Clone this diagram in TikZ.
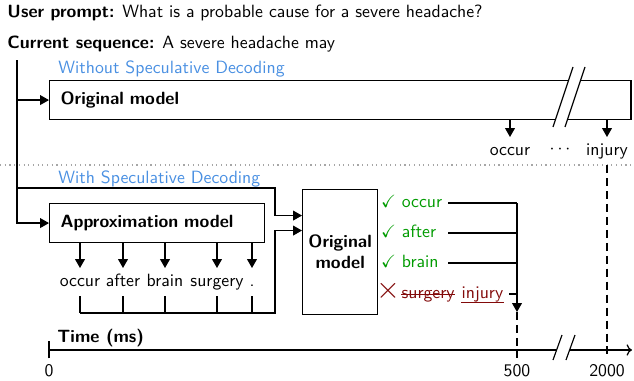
\documentclass[tikz,border=0pt]{standalone}
\usepackage{amssymb}
\usetikzlibrary{arrows.meta,positioning}

\definecolor{specblue}{RGB}{74,144,226}
\definecolor{okgreen}{RGB}{0,155,0}
\definecolor{badred}{RGB}{130,10,10}

\tikzset{
  modelbox/.style={draw, font=\sffamily\bfseries, align=left, inner xsep=6.2pt, minimum height=0.772cm},
  token/.style={font=\sffamily, text height=1.5ex, text depth=.4ex, inner ysep=3.5pt, inner xsep=1pt},
  vtoken/.style={token, anchor=west, inner xsep=2pt},
  arr/.style={-{Triangle[length=5pt,width=5.5pt]}},
  dashline/.style={dash pattern=on 4.5pt off 2.8pt},
}

\begin{document}
\begin{tikzpicture}[x=0.0198cm, y=-0.0198cm, font=\sffamily, line width=0.65pt]
    \useasboundingbox (0,0) rectangle (634,381);

    % Prompt and current sequence
    \node[anchor=west] (prompt) at (1,13) {\textbf{User prompt:} What is a probable cause for a severe headache?};
    \node[anchor=west] (seq) at (1,44) {\textbf{Current sequence:} A severe headache may};

    % Main line
    \coordinate (top) at (17,60);
    \coordinate (split) at (17,188);

    % Without speculative decoding
    \node[anchor=west, text=specblue] (nospec) at (52,69) {Without Speculative Decoding};
    \node[modelbox, anchor=north west, text width=11.08cm] (origA) at (49,80) {Original model};
    \fill[white] (553,127) -- (573,67) -- (585,67) -- (565,127) -- cycle;
    \draw (553,127) -- (573,67) (565,127) -- (585,67);

    \node[token, anchor=north] (occA) at (510,137) {occur};
    \node[token, anchor=north] (dotsA) at (560,135) {$\cdots$};
    \node[token, anchor=north] (injA) at (607,137) {injury};
    \draw[arr] (origA.south -| occA) -- (occA);
    \draw[arr] (origA.south -| injA) -- (injA);

    % Separator
    \draw[dotted, gray!70] (0,165) -- (634,165);

    % With speculative decoding
    \node[anchor=west, text=specblue] (spec) at (52,179) {With Speculative Decoding};
    \node[modelbox, anchor=north west, text width=3.82cm] (approx) at (49,203) {Approximation model};
    \node[draw, font=\sffamily\bfseries, align=center, minimum width=1.426cm, minimum height=2.475cm, anchor=north west] (origB) at (302,189) {Original\\model};

    \draw (top) -- (split);
    \draw[arr] (top) |- (approx.west);
    \draw[arr] (top |- origA.west) -- (origA.west);
    \draw[arr] (split) -- (275,188) |- ([yshift=0.723cm]origB.west);

    % Draft tokens
    \foreach \x/\word [count=\i] in {80/occur, 123/after, 165/brain, 217/surgery, 252/.} {
        \node[token, anchor=north] (tok\i) at (\x,268) {\word};
        \draw[arr] (approx.south -| tok\i) -- (tok\i);
        \draw (tok\i.south) -- (\x,313); % ticks
    };
    \draw[arr] (tok1.south |- 0,313) -- (275,313) |- ([yshift=0.426cm]origB.west);

    % Verified tokens
    \coordinate (drop) at (517,312);
    \foreach \y/\word [count=\i] in {203/occur, 233/after, 263/brain} {
        \node[vtoken, text=okgreen, text width=1.245cm] (ok\i) at (377,\y) {$\checkmark$ \word};
        \draw (ok\i.east) -- (ok\i -| drop);
    };
    \node[vtoken, text=badred, inner sep=0pt] (cross) at (376,294) {\LARGE$\times$};
    \node[token, text=badred, anchor=base west, inner xsep=0pt] (surg) at (cross.base east) {surgery};
    \node[token, text=badred, anchor=base west, inner xsep=0pt] (injB) at ([xshift=3.3pt]surg.base east) {injury};
    \draw[badred, line width=0.5pt] ([yshift=2.3pt]surg.base west) -- ([yshift=2.3pt]surg.base east);
    \draw[badred, line width=0.5pt] ([yshift=-2.6pt]injB.base west) -- ([yshift=-2.6pt]injB.base east);
    \draw ([xshift=3pt]injB.east) -- (injB -| drop);
    \draw[arr] (ok1 -| drop) -- (drop);

    % Time axis
    \node[anchor=west, font=\sffamily\bfseries] (time) at (51,338) {Time (ms)};
    \coordinate (origin) at (49,350);
    \node (t0) at (49,371) {0};
    \node (t500) at (517,371) {500};
    \node (t2000) at (607,371) {2000};
    \draw[->] (origin) -- (632,350);
    \fill[white] (553,360) -- (562,335) -- (575,335) -- (566,360) -- cycle;
    \draw (553,360) -- (562,335) (566,360) -- (575,335);
    \draw (t0.north) -- ++(0,-17);
    \draw[dashline] (drop) -- (t500.north);
    \draw[dashline] (injA.south) -- (t2000.north);
\end{tikzpicture}
\end{document}
